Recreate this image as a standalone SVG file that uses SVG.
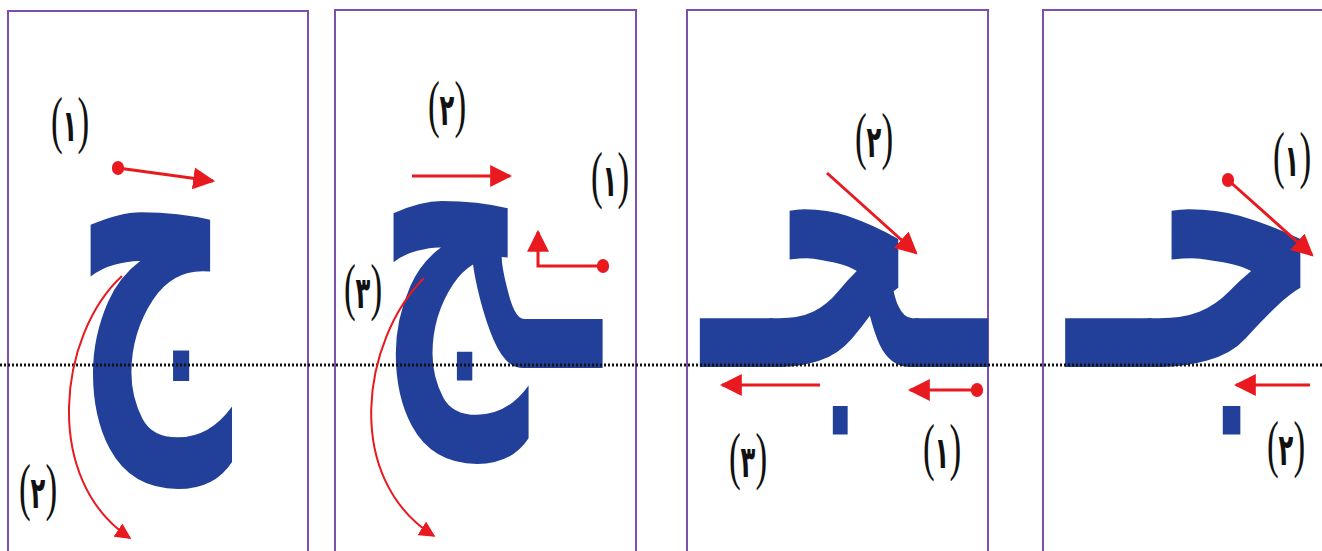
<svg xmlns="http://www.w3.org/2000/svg" width="1322" height="551" viewBox="0 0 1322 551">
<style>
.panel{fill:none;stroke:#7d4fae;stroke-width:2}
.base{stroke:#111;stroke-width:3;stroke-dasharray:2 2}
.arr{fill:none;stroke:#e8191f;stroke-width:3}
.carr{fill:none;stroke:#e8191f;stroke-width:2}
.lbl{font-family:"Liberation Serif","DejaVu Sans",serif;font-size:64px;fill:#111;text-anchor:middle}
.dig{font-family:"DejaVu Sans",sans-serif;font-size:44px;font-weight:bold}
.let{font-family:"DejaVu Sans",sans-serif;font-weight:bold;font-size:300px;fill:#22409a;text-anchor:middle}
</style>
<defs>
<marker id="head" viewBox="0 0 20 20" refX="18" refY="10" markerWidth="22" markerHeight="22" markerUnits="userSpaceOnUse" orient="auto"><path d="M0,0 L20,10 L0,20 z" fill="#e8191f"/></marker>
<marker id="chead" viewBox="0 0 20 20" refX="18" refY="10" markerWidth="16" markerHeight="16" markerUnits="userSpaceOnUse" orient="auto"><path d="M0,0 L20,10 L0,20 z" fill="#e8191f"/></marker>
<marker id="dot" viewBox="0 0 16 16" refX="8" refY="8" markerWidth="14" markerHeight="16" markerUnits="userSpaceOnUse" orient="0"><ellipse cx="8" cy="8" rx="7" ry="8" fill="#e8191f"/></marker>
</defs>
<rect width="1322" height="551" fill="#fff"/>
<g id="panels">
<rect class="panel" x="8" y="11" width="300" height="560"/>
<rect class="panel" x="335" y="10" width="301" height="560"/>
<rect class="panel" x="687" y="10" width="301" height="560"/>
<rect class="panel" x="1043" y="10" width="300" height="560"/>
</g>
<g id="letter-isolated"><text class="let" transform="translate(153,388) scale(0.733,1.38)">ج</text></g>
<g id="letter-final"><text class="let" transform="translate(489,368) scale(0.7,1.31)">ـج</text></g>
<g id="letter-medial"><text class="let" transform="translate(844,367) scale(0.675,1.3)">ـجـ</text></g>
<g id="letter-initial"><text class="let" transform="translate(1195,367) scale(0.8,1.3)">جـ</text></g>
<line id="baseline" class="base" x1="0" y1="365" x2="1322" y2="365"/>
<g id="connectors">
<line class="arr" x1="118" y1="168" x2="213" y2="181" marker-start="url(#dot)" marker-end="url(#head)"/>
<path class="carr" d="M122,276 C58,335 42,480 130,538" marker-end="url(#chead)"/>
<line class="arr" x1="412" y1="176" x2="510" y2="176" marker-end="url(#head)"/>
<path class="arr" d="M603,266 L538,266 L538,232" marker-start="url(#dot)" marker-end="url(#head)"/>
<path class="carr" d="M424,278 C362,340 342,478 434,536" marker-end="url(#chead)"/>
<line class="arr" x1="827" y1="173" x2="916" y2="253" marker-end="url(#head)"/>
<line class="arr" x1="977" y1="390" x2="910" y2="390" marker-start="url(#dot)" marker-end="url(#head)"/>
<line class="arr" x1="820" y1="385" x2="722" y2="385" marker-end="url(#head)"/>
<line class="arr" x1="1228" y1="180" x2="1312" y2="255" marker-start="url(#dot)" marker-end="url(#head)"/>
<line class="arr" x1="1310" y1="385" x2="1236" y2="385" marker-end="url(#head)"/>
</g>
<g id="labels">
<text class="lbl" transform="translate(70,141) scale(0.55,1)">(<tspan class="dig">١</tspan>)</text>
<text class="lbl" transform="translate(38,508) scale(0.55,1)">(<tspan class="dig">٢</tspan>)</text>
<text class="lbl" transform="translate(447,125) scale(0.55,1)">(<tspan class="dig">٢</tspan>)</text>
<text class="lbl" transform="translate(610,196) scale(0.55,1)">(<tspan class="dig">١</tspan>)</text>
<text class="lbl" transform="translate(363,308) scale(0.55,1)">(<tspan class="dig">٣</tspan>)</text>
<text class="lbl" transform="translate(874,157) scale(0.55,1)">(<tspan class="dig">٢</tspan>)</text>
<text class="lbl" transform="translate(748,477) scale(0.55,1)">(<tspan class="dig">٣</tspan>)</text>
<text class="lbl" transform="translate(942,468) scale(0.55,1)">(<tspan class="dig">١</tspan>)</text>
<text class="lbl" transform="translate(1292,176) scale(0.55,1)">(<tspan class="dig">١</tspan>)</text>
<text class="lbl" transform="translate(1286,465) scale(0.55,1)">(<tspan class="dig">٢</tspan>)</text>
</g>
</svg>
